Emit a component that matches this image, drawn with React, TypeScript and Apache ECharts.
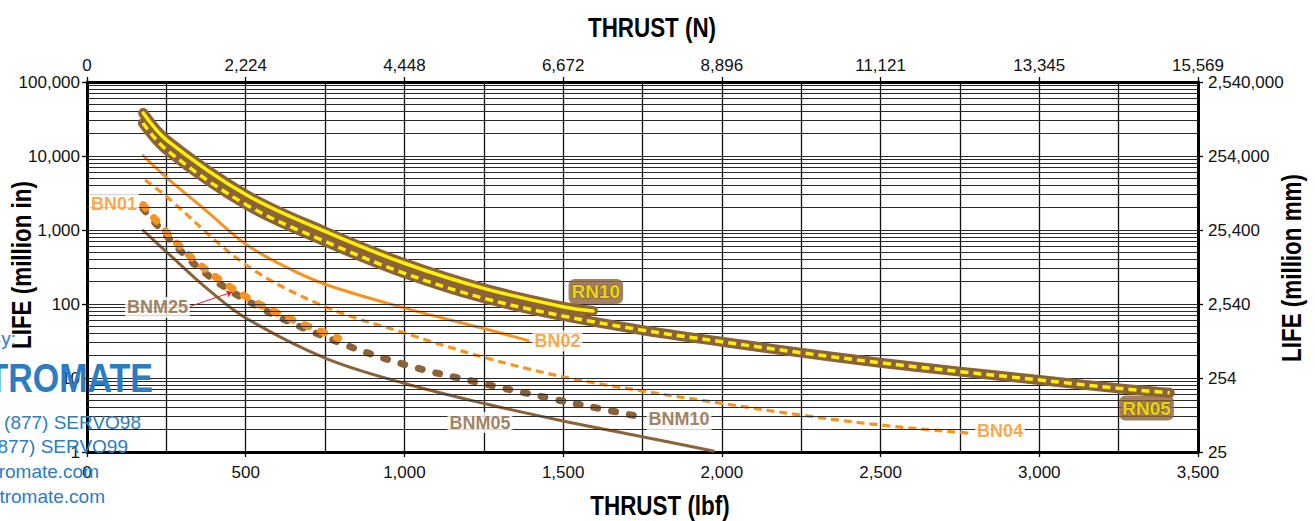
import React, { useEffect, useRef } from "react";
import * as echarts from "echarts";

// ---------- data (thrust in lbf, life in million inches) ----------
const rn10Thrust = [177, 251, 503, 750, 998, 1247, 1499, 1594];
const rn10Life = [38100, 16450, 2970, 955, 358, 164, 92, 80.5];

const rn05Thrust = [176, 251, 503, 750, 998, 1247, 1499, 1747, 1999, 2248, 2498, 2750, 3000, 3247, 3411];
const rn05Life = [27900, 12050, 2178, 700, 262, 120.5, 68.9, 44.5, 30.9, 22, 16.1, 12.2, 9.4, 7.26, 6.3];

const bn02Thrust = [177, 251, 377, 501, 618, 750, 1001, 1247, 1390];
const bn02Life = [10090, 5100, 1800, 640, 330, 185, 88, 47, 32];

const bn04Thrust = [183, 251, 501, 750, 1001, 1247, 1499, 1747, 1999, 2248, 2498, 2781];
const bn04Life = [4740, 2820, 337, 92, 40.5, 19.2, 10.4, 6.7, 4.55, 3.16, 2.32, 1.79];

const bn01Thrust = [177, 261, 345, 435, 529, 634, 792];
const bn01Life = [2178, 830, 370, 189, 107, 64.7, 34.4];

const bnm10Thrust = [177, 345, 529, 790, 1012, 1236, 1458, 1626, 1742];
const bnm10Life = [1923, 326, 97, 30.7, 14.7, 8.64, 5.32, 3.78, 3.0];

const bnm05Thrust = [177, 251, 387, 500, 750, 999, 1248, 1500, 1749, 1973];
const bnm05Life = [985, 504, 150, 64.7, 18.6, 8.48, 4.55, 2.62, 1.61, 1.03];

// tick labels
const bottomLabels = ["0", "500", "1,000", "1,500", "2,000", "2,500", "3,000", "3,500"];
const topLabels = ["0", "2,224", "4,448", "6,672", "8,896", "11,121", "13,345", "15,569"];
const leftLabels = ["1", "10", "100", "1,000", "10,000", "100,000"];
const rightLabels = ["25", "254", "2,540", "25,400", "254,000", "2,540,000"];

// curve annotations (data coordinates)
const curveLabelNames = ["BN01", "BNM25", "RN10", "BN02", "BNM05", "BNM10", "BN04", "RN05"];
const curveLabelThrust = [85, 222, 1603, 1482, 1238, 1865, 2876, 3338];
const curveLabelLife = [2245, 89.7, 147.5, 31.6, 2.5, 2.75, 1.92, 3.93];
const curveLabelKind = ["orange", "brown", "rn", "orange", "brown", "brown", "orange", "rn"];

// BNM25 pointer (from label to curve)
const pointerThrust = [324, 457];
const pointerLife = [92.5, 145];

const FONT = "'Liberation Sans', Arial, sans-serif";
const ORANGE = "#F7941D";
const BROWN = "#8C6239";
const YELLOW = "#FFF200";
const BLUE = "#2B7CC0";

const zip = (xs: number[], ys: number[]) => xs.map((x, i) => [x, ys[i]]);

const curve = (name: string, xs: number[], ys: number[], color: string, width: number, type: any, cap: string, z: number) => ({
  type: "line",
  name,
  data: zip(xs, ys),
  smooth: 0.35,
  symbol: "none",
  showSymbol: false,
  silent: true,
  z,
  lineStyle: { color, width, type, cap },
  emphasis: { disabled: true },
});

const minorGrid: number[] = [];
[1, 10, 100, 1000, 10000].forEach((d) => {
  for (let m = 2; m <= 9; m++) minorGrid.push(d * m);
  if (d > 1) minorGrid.push(d);
});

const labelStyle = (kind: string) => {
  if (kind === "rn")
    return {
      color: YELLOW,
      fontFamily: FONT,
      fontWeight: "bold",
      fontSize: 19,
      backgroundColor: BROWN,
      borderRadius: 6,
      padding: [4, 3, 2, 3],
      textBorderColor: BROWN,
      textBorderWidth: 2,
    };
  return {
    color: kind === "orange" ? ORANGE : BROWN,
    fontFamily: FONT,
    fontWeight: "bold",
    fontSize: 18,
    backgroundColor: "#fff",
    padding: [2, 2, 1, 2],
  };
};

const tickFont = { fontFamily: FONT, fontSize: 17, color: "#111" };

const title = (text: string, x: number, y: number, rotation = 0) => ({
  type: "text",
  x,
  y,
  rotation,
  scaleX: 0.8,
  style: { text, fill: "#000", font: `bold 28px ${FONT}`, textAlign: "center", textVerticalAlign: "middle" },
});

const mark = (text: string, x: number, y: number, font: string, scaleX = 1) => ({
  type: "text",
  x,
  y,
  z: 100,
  scaleX,
  style: { text, fill: BLUE, font, textAlign: "right", textVerticalAlign: "middle" },
});

const option: any = {
  animation: false,
  backgroundColor: "#fff",
  grid: { left: 87, right: 117, top: 82, bottom: 69, containLabel: false },
  xAxis: [
    {
      type: "value",
      position: "bottom",
      min: 0,
      max: 3500,
      interval: 500,
      axisLine: { onZero: false, lineStyle: { color: "#000", width: 3 } },
      axisTick: { show: true, length: 5, lineStyle: { color: "#000", width: 1.3 } },
      axisLabel: { margin: 12, ...tickFont, formatter: (v: number) => bottomLabels[Math.round(v / 500)] },
      splitLine: { show: true, lineStyle: { color: "#111", width: 1.3 } },
      minorTick: { show: false, splitNumber: 2 },
      minorSplitLine: { show: true, lineStyle: { color: "#111", width: 1.3 } },
    },
    {
      type: "value",
      position: "top",
      min: 0,
      max: 3500,
      interval: 500,
      axisLine: { onZero: false, lineStyle: { color: "#000", width: 3 } },
      axisTick: { show: true, length: 5, lineStyle: { color: "#000", width: 1.3 } },
      axisLabel: { margin: 8, ...tickFont, formatter: (v: number) => topLabels[Math.round(v / 500)] },
      splitLine: { show: false },
    },
  ],
  yAxis: [
    {
      type: "log",
      logBase: 10,
      position: "left",
      min: 1,
      max: 100000,
      axisLine: { onZero: false, lineStyle: { color: "#000", width: 3 } },
      axisTick: { show: true, length: 5, lineStyle: { color: "#000", width: 1.3 } },
      axisLabel: { margin: 7, ...tickFont, formatter: (v: number) => leftLabels[Math.round(Math.log10(v))] },
      splitLine: { show: false },
      minorTick: { show: false },
    },
    {
      type: "log",
      logBase: 10,
      position: "right",
      min: 1,
      max: 100000,
      axisLine: { onZero: false, lineStyle: { color: "#000", width: 3 } },
      axisTick: { show: true, length: 5, lineStyle: { color: "#000", width: 1.3 } },
      axisLabel: { margin: 10, ...tickFont, formatter: (v: number) => rightLabels[Math.round(Math.log10(v))] },
      splitLine: { show: false },
      minorTick: { show: false },
    },
  ],
  graphic: [
    title("THRUST (N)", 652, 27),
    title("THRUST (lbf)", 660, 505),
    title("LIFE (million in)", 21, 265, Math.PI / 2),
    title("LIFE (million mm)", 1291, 268, Math.PI / 2),
    // distributor watermark (clipped at the left edge as in the source)
    mark("Sold By:", 16, 338, `19px ${FONT}`),
    mark("ELECTROMATE", 153, 378, `bold 40px ${FONT}`, 0.85),
    mark("Toll Free Phone (877) SERVO98", 141, 422, `19px ${FONT}`),
    mark("Toll Free Fax (877) SERVO99", 128, 446, `19px ${FONT}`),
    mark("www.electromate.com", 99, 471, `19px ${FONT}`),
    mark("sales@electromate.com", 105, 496, `19px ${FONT}`),
  ],
  series: [
    {
      type: "line",
      name: "grid",
      data: [],
      silent: true,
      z: 1,
      markLine: {
        silent: true,
        symbol: ["none", "none"],
        label: { show: false },
        lineStyle: { color: "#2a2a2a", width: 1, type: "solid" },
        emphasis: { disabled: true },
        data: minorGrid.map((v) => ({ yAxis: v })),
      },
    },
    curve("BNM05", bnm05Thrust, bnm05Life, BROWN, 3, "solid", "round", 3),
    curve("BNM10", bnm10Thrust, bnm10Life, BROWN, 7, [4, 14], "round", 3),
    curve("BN01", bn01Thrust, bn01Life, ORANGE, 7.5, [4, 13], "round", 4),
    curve("BN04", bn04Thrust, bn04Life, ORANGE, 3.2, [8, 5], "butt", 4),
    curve("BN02", bn02Thrust, bn02Life, ORANGE, 3, "solid", "round", 4),
    curve("RN05 band", rn05Thrust, rn05Life, BROWN, 10, "solid", "round", 5),
    curve("RN10 band", rn10Thrust, rn10Life, BROWN, 10, "solid", "round", 5),
    curve("RN05", rn05Thrust, rn05Life, YELLOW, 3.5, [8, 5], "butt", 6),
    curve("RN10", rn10Thrust, rn10Life, YELLOW, 3.5, "solid", "round", 6),
    {
      type: "lines",
      coordinateSystem: "cartesian2d",
      silent: true,
      z: 7,
      symbol: ["none", "arrow"],
      symbolSize: 6,
      lineStyle: { color: "#ED1C24", width: 1, opacity: 1 },
      data: [{ coords: zip(pointerThrust, pointerLife) }],
    },
    {
      type: "scatter",
      name: "labels",
      silent: true,
      z: 8,
      symbolSize: 0,
      data: curveLabelNames.map((n, i) => ({
        name: n,
        value: [curveLabelThrust[i], curveLabelLife[i]],
        label: { show: true, position: "inside", formatter: n, ...labelStyle(curveLabelKind[i]) },
      })),
    },
  ],
};

export default function App() {
  const ref = useRef<HTMLDivElement>(null);
  useEffect(() => {
    const chart = echarts.init(ref.current!, null, { renderer: "svg" });
    chart.setOption(option);
    return () => chart.dispose();
  }, []);
  return (
    <div
      ref={ref}
      style={{ position: "fixed", left: 0, top: 0, width: 1315, height: 521, background: "#fff" }}
    />
  );
}
